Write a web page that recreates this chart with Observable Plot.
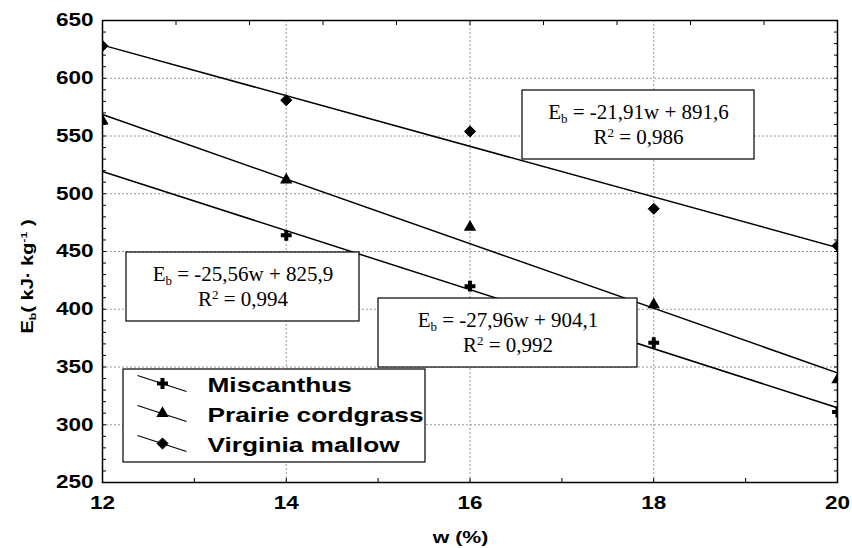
<!DOCTYPE html>
<html><head><meta charset="utf-8">
<script src="https://cdn.jsdelivr.net/npm/d3@7"></script>
<script src="https://cdn.jsdelivr.net/npm/@observablehq/plot@0.6"></script>
<style>body{margin:0;background:#fff} #chart{width:852px;height:548px}</style>
</head><body><div id="chart"></div>
<script>
// ---- data ----
const seriesNames = ["Miscanthus", "Prairie cordgrass", "Virginia mallow"];
const wValues = [12, 14, 16, 18, 20];
const miscanthus = [null, 464, 420, 371, 311];
const prairie = [563, 512, 471, 404, 339];
const mallow = [628, 581, 554, 487, 455];
const trendW = [12, 20];
const trendMiscanthus = [519.2, 314.7];
const trendPrairie = [568.6, 344.9];
const trendMallow = [628.7, 453.4];
const equations = ["E_{b} = -25,56w + 825,9", "E_{b} = -27,96w + 904,1", "E_{b} = -21,91w + 891,6"];
const r2Labels = ["R^{2} = 0,994", "R^{2} = 0,992", "R^{2} = 0,986"];
const xTicks = [12, 14, 16, 18, 20];
const yTicks = [250, 300, 350, 400, 450, 500, 550, 600, 650];
const xGrid = [14, 16, 18];
const yGrid = [300, 350, 400, 450, 500, 550, 600];
const yMinor = d3.range(260, 650, 10);
const xMinorBottom = [13, 14, 15, 16, 17, 18, 19];
const xMinorTop = [12.8, 13.6, 14.4, 15.2, 16, 16.8, 17.6, 18.4, 19.2];
const xLabel = "w (%)";
const yLabel = "E_{b}( kJ· kg^{-1} )";

// ---- build tables ----
const valueSets = [miscanthus, prairie, mallow];
const points = valueSets.map((vals, s) =>
  wValues.map((w, i) => ({series: seriesNames[s], w, e: vals[i]})).filter(d => d.e != null));
const trendSets = [trendMiscanthus, trendPrairie, trendMallow];
const trends = trendSets.flatMap((vals, s) => trendW.map((w, i) => ({series: seriesNames[s], w, e: vals[i]})));

// pixel -> data helpers for annotation placement
const X = px => 12 + (px - 102) * 8 / 735;
const Y = py => 650 - (py - 20) * 400 / 462;

const boxes = [
  {x1: X(126), x2: X(359), y1: Y(252), y2: Y(321), cx: X(242.5), l1: Y(274), l2: Y(299)},
  {x1: X(378), x2: X(637), y1: Y(298), y2: Y(367), cx: X(507.5), l1: Y(320), l2: Y(345)},
  {x1: X(522), x2: X(754), y1: Y(90), y2: Y(159), cx: X(638), l1: Y(112), l2: Y(137)}
].map((b, i) => ({...b, eq: equations[i], r2: r2Labels[i]}));

const legendRows = seriesNames.map((name, i) => {
  const c = 385 + 30 * i;
  return {name, x1: X(137), y1: Y(c - 10), x2: X(186), y2: Y(c + 6), mx: X(162), my: Y(c - 2), tx: X(207), ty: Y(c)};
});
const legendBox = [{x1: X(123), x2: X(425), y1: Y(369), y2: Y(462)}];

const symbolStyles = [
  {symbol: "plus", r: 3.6, stroke: "black", strokeWidth: 4, fill: "none"},
  {symbol: "triangle", r: 4.6, fill: "black", stroke: "none"},
  {symbol: "diamond2", r: 5, fill: "black", stroke: "black", strokeWidth: 1}
];

const serif = "'Liberation Serif', 'Times New Roman', serif";

const chart = Plot.plot({
  width: 852,
  height: 548,
  marginLeft: 102,
  marginRight: 15,
  marginTop: 20,
  marginBottom: 66,
  style: {fontFamily: "'Liberation Sans', Arial, sans-serif", fontWeight: "bold", fontSize: "18px", background: "white", color: "black", overflow: "visible"},
  x: {domain: [12, 20]},
  y: {domain: [250, 650]},
  marks: [
    Plot.gridX(xGrid, {stroke: "#9a9a9a", strokeOpacity: 1, strokeDasharray: "2,2", strokeWidth: 1}),
    Plot.gridY(yGrid, {stroke: "#9a9a9a", strokeOpacity: 1, strokeDasharray: "2,2", strokeWidth: 1}),
    Plot.axisY(yMinor, {anchor: "left", tickSize: -4, tickFormat: () => "", strokeWidth: 1}),
    Plot.axisY(yMinor, {anchor: "right", tickSize: -4, tickFormat: () => "", strokeWidth: 1}),
    Plot.axisX(xMinorBottom, {anchor: "bottom", tickSize: -4, tickFormat: () => "", strokeWidth: 1}),
    Plot.axisX(xMinorTop, {anchor: "top", tickSize: -4, tickFormat: () => "", strokeWidth: 1}),
    Plot.axisY(yTicks, {anchor: "left", tickSize: 0, tickPadding: 9, fontSize: 18, fontWeight: "bold", label: null}),
    Plot.axisX(xTicks, {anchor: "bottom", tickSize: 0, tickPadding: 14, fontSize: 18, fontWeight: "bold", label: null}),
    Plot.line(trends, {x: "w", y: "e", z: "series", stroke: "black", strokeWidth: 1.5, clip: true}),
    ...points.map((pts, s) => Plot.dot(pts, {x: "w", y: "e", ...symbolStyles[s], clip: true})),
    Plot.rect(boxes, {x1: "x1", x2: "x2", y1: "y1", y2: "y2", fill: "white", stroke: "black", strokeWidth: 1.2}),
    Plot.text(boxes, {x: "cx", y: "l1", text: "eq", fontFamily: serif, fontSize: 21, fontWeight: "normal", fill: "black"}),
    Plot.text(boxes, {x: "cx", y: "l2", text: "r2", fontFamily: serif, fontSize: 21, fontWeight: "normal", fill: "black"}),
    Plot.rect(legendBox, {x1: "x1", x2: "x2", y1: "y1", y2: "y2", fill: "white", stroke: "black", strokeWidth: 1.2}),
    Plot.link(legendRows, {x1: "x1", y1: "y1", x2: "x2", y2: "y2", stroke: "black", strokeWidth: 1.2}),
    ...legendRows.map((row, s) => Plot.dot([row], {x: "mx", y: "my", ...symbolStyles[s]})),
    Plot.text(legendRows, {x: "tx", y: "ty", text: "name", textAnchor: "start", fontSize: 21, fontWeight: "bold", fill: "black"}),
    Plot.text([xLabel], {x: X(460), y: Y(537), text: d => d, fontSize: 17, fontWeight: "bold", fill: "black"}),
    Plot.text([yLabel], {x: X(27), y: Y(276), text: d => d, rotate: -90, fontSize: 16, fontWeight: "bold", fill: "black"}),
    Plot.frame({stroke: "black", strokeWidth: 1.5})
  ]
});
document.getElementById("chart").appendChild(chart);

// ---- rich text: sub/superscripts ----
chart.querySelectorAll("text").forEach(t => {
  const s = t.textContent;
  if (!/[_^]\{/.test(s)) return;
  const fs = parseFloat(getComputedStyle(t).fontSize) || 16;
  const parts = [];
  const re = /([_^])\{([^}]*)\}/g;
  let last = 0, m;
  while ((m = re.exec(s))) {
    if (m.index > last) parts.push({txt: s.slice(last, m.index), kind: "n"});
    parts.push({txt: m[2], kind: m[1] === "_" ? "sub" : "sup"});
    last = re.lastIndex;
  }
  if (last < s.length) parts.push({txt: s.slice(last), kind: "n"});
  while (t.firstChild) t.removeChild(t.firstChild);
  let shift = 0;
  parts.forEach(p => {
    const ts = document.createElementNS("http://www.w3.org/2000/svg", "tspan");
    let target = 0;
    if (p.kind === "sub") { target = fs * 0.2; ts.setAttribute("font-size", fs * 0.62); }
    if (p.kind === "sup") { target = -fs * 0.36; ts.setAttribute("font-size", fs * 0.62); }
    const dy = target - shift;
    if (dy !== 0) ts.setAttribute("dy", dy);
    shift = target;
    ts.textContent = p.txt;
    t.appendChild(ts);
  });
});

// ---- horizontal stretch for the bold sans texts (reference is widened) ----
chart.querySelectorAll("text").forEach(t => {
  const ff = getComputedStyle(t).fontFamily;
  if (/Serif/i.test(ff) && !/Sans/i.test(ff)) return;
  if (!t.textContent.trim()) return;
  const len = t.getComputedTextLength();
  if (len > 0) {
    t.setAttribute("textLength", (len * 1.25).toFixed(1));
    t.setAttribute("lengthAdjust", "spacingAndGlyphs");
  }
});
</script>
</body></html>
